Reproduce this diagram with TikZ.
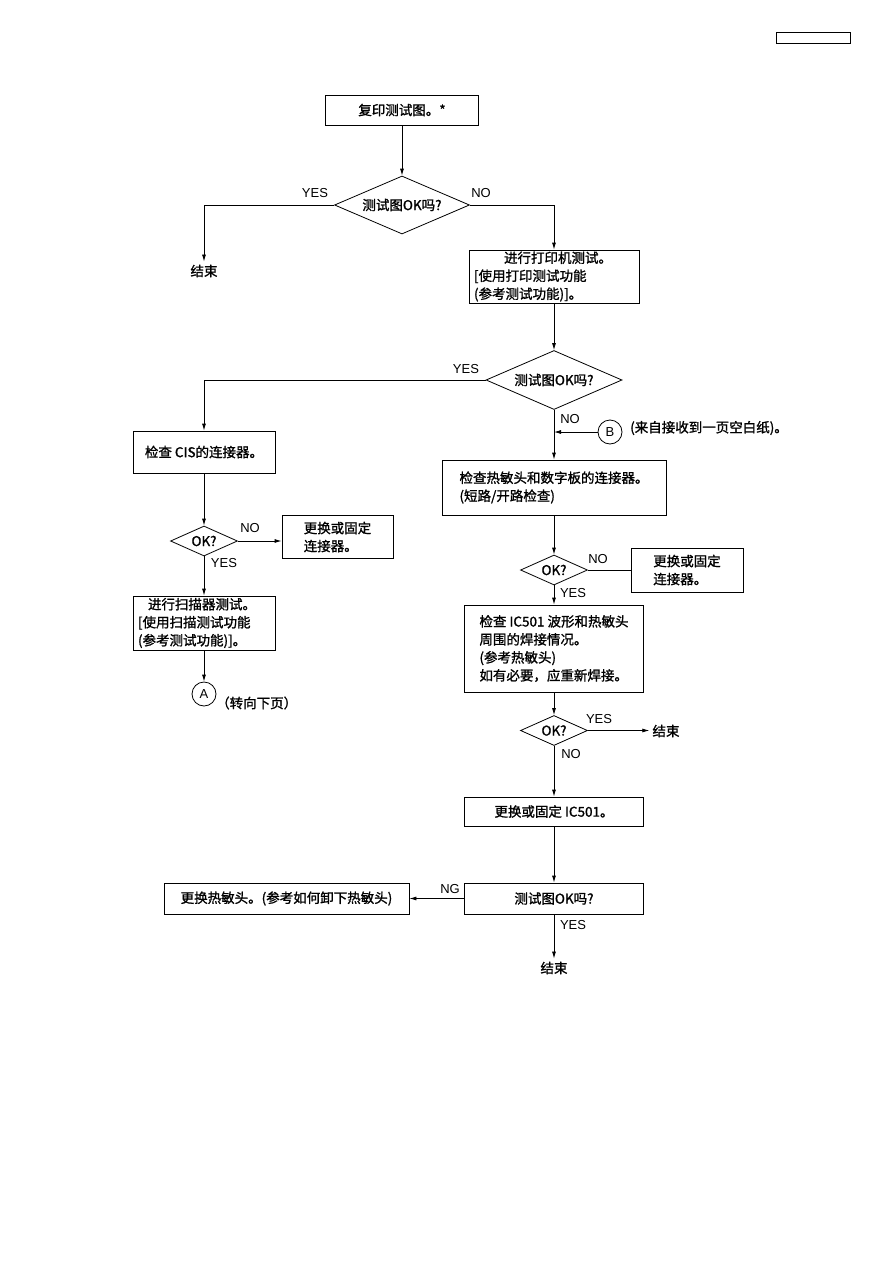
\documentclass[tikz,border=0pt]{standalone}
\usepackage{fontspec}
\setmainfont{Liberation Sans}
\newfontfamily\cjk{Noto Sans CJK SC}[FakeBold=1.2]
\usetikzlibrary{shapes.geometric,arrows.meta,positioning}

\tikzset{
  flow/.style={draw, line width=0.8pt, inner sep=0pt, align=left,
    font=\cjk\fontsize{13.5}{18}\selectfont},
  decide/.style={draw, diamond, line width=0.8pt, inner sep=0pt,
    font=\cjk\fontsize{13.5}{16}\selectfont},
  conn/.style={draw, circle, line width=0.8pt, minimum size=24pt, inner sep=0pt,
    font=\fontsize{13}{15}\selectfont},
  endtxt/.style={inner sep=3pt, font=\cjk\fontsize{13.5}{15}\selectfont},
  note/.style={inner sep=0pt, font=\cjk\fontsize{13.5}{15}\selectfont},
  lbl/.style={inner sep=0pt, font=\fontsize{13}{15}\selectfont},
  line/.style={line width=0.8pt},
  arr/.style={line, -{Latex[length=7pt,width=4pt]}},
}

\begin{document}
\begin{tikzpicture}[x=1pt, y=-1pt]
    \useasboundingbox (0,0) rectangle (893,1263);
    \draw[line] (776,32) rectangle (850,43);

    % top
    \node[flow, minimum width=153pt, minimum height=30pt] (copy) at (402,110) {复印测试图。*};
    \node[decide, minimum width=135pt, minimum height=58pt, aspect=2.3] (ok1) at (402,205) {测试图OK吗?};
    \node[endtxt] (end1) at (204,271) {结束};
    \node[flow, minimum width=170pt, minimum height=53pt, text width=160pt] (print) at (554,276.5)
        {\hspace{30pt}进行打印机测试。\\{[}使用打印测试功能\\(参考测试功能){]}。};
    \draw[arr] (copy) -- (ok1);
    \draw[arr] (ok1.west) -| (end1.north);
    \draw[arr] (ok1.east) -| (print.north);
    \node[lbl] (yes1) at (315,193) {YES};
    \node[lbl] (no1) at (481,193) {NO};

    % second check
    \node[decide, minimum width=136pt, minimum height=59pt, aspect=2.3] (ok2) at (554,380) {测试图OK吗?};
    \node[flow, minimum width=142pt, minimum height=42pt] (cis) at (204,452) {检查 CIS的连接器。};
    \node[flow, minimum width=224pt, minimum height=55pt] (thermal) at (554,487.5)
        {检查热敏头和数字板的连接器。\\(短路/开路检查)};
    \node[conn] (connB) at (610,432) {B};
    \node[note, anchor=west] (fromB) at (630,428) {(来自接收到一页空白纸)。};
    \draw[arr] (print) -- (ok2);
    \draw[arr] (ok2.west) -| (cis.north);
    \draw[arr] (ok2) -- (thermal);
    \draw[arr] (connB.west) -- (connB.west -| ok2.south);
    \node[lbl] (yes2) at (466,369) {YES};
    \node[lbl] (no2) at (570,419) {NO};

    % left branch
    \node[decide, minimum width=67pt, minimum height=30pt, aspect=2.2] (okL) at (204,541) {OK?};
    \node[flow, minimum width=111pt, minimum height=43pt] (fixL) at (337.5,537) {更换或固定\\连接器。};
    \node[flow, minimum width=142pt, minimum height=54pt, text width=132pt] (scan) at (204,623)
        {\hspace{10pt}进行扫描器测试。\\{[}使用扫描测试功能\\(参考测试功能){]}。};
    \node[conn] (connA) at (204,694) {A};
    \node[note, anchor=west] (toA) at (216,703) {（转向下页）};
    \draw[arr] (cis) -- (okL);
    \draw[arr] (okL.east) -- (okL.east -| fixL.west);
    \draw[arr] (okL) -- (scan);
    \draw[arr] (scan) -- (connA);
    \node[lbl] (noL) at (250,528) {NO};
    \node[lbl] (yesL) at (224,563) {YES};

    % right branch
    \node[decide, minimum width=67pt, minimum height=30pt, aspect=2.2] (okR1) at (554,570) {OK?};
    \node[flow, minimum width=112pt, minimum height=44pt] (fixR) at (687,570) {更换或固定\\连接器。};
    \node[flow, minimum width=179pt, minimum height=87pt] (ic) at (554,648.5)
        {检查 IC501 波形和热敏头\\周围的焊接情况。\\(参考热敏头)\\如有必要，应重新焊接。};
    \node[decide, minimum width=67pt, minimum height=30pt, aspect=2.2] (okR2) at (554,730.5) {OK?};
    \node[endtxt] (end2) at (666,731) {结束};
    \node[flow, minimum width=179pt, minimum height=29pt] (replic) at (554,811.5) {更换或固定 IC501。};
    \node[flow, minimum width=179pt, minimum height=31pt] (ok3) at (554,898.5) {测试图OK吗?};
    \node[flow, minimum width=245pt, minimum height=31pt] (head) at (286.5,898.5) {更换热敏头。(参考如何卸下热敏头)};
    \node[endtxt] (end3) at (554,968) {结束};
    \draw[arr] (thermal) -- (okR1);
    \draw[line] (okR1.east) -- (fixR.west);
    \draw[arr] (okR1) -- (ic);
    \draw[arr] (ic) -- (okR2);
    \draw[arr] (okR2.east) -- (okR2.east -| end2.west);
    \draw[arr] (okR2) -- (replic);
    \draw[arr] (replic) -- (ok3);
    \draw[arr] (ok3) -- (head);
    \draw[arr] (ok3) -- (end3);
    \node[lbl] (noR1) at (598,559) {NO};
    \node[lbl] (yesR1) at (573,593) {YES};
    \node[lbl] (yesR2) at (599,719) {YES};
    \node[lbl] (noR2) at (571,754) {NO};
    \node[lbl] (ng) at (450,889) {NG};
    \node[lbl] (yes3) at (573,925) {YES};
\end{tikzpicture}
\end{document}
